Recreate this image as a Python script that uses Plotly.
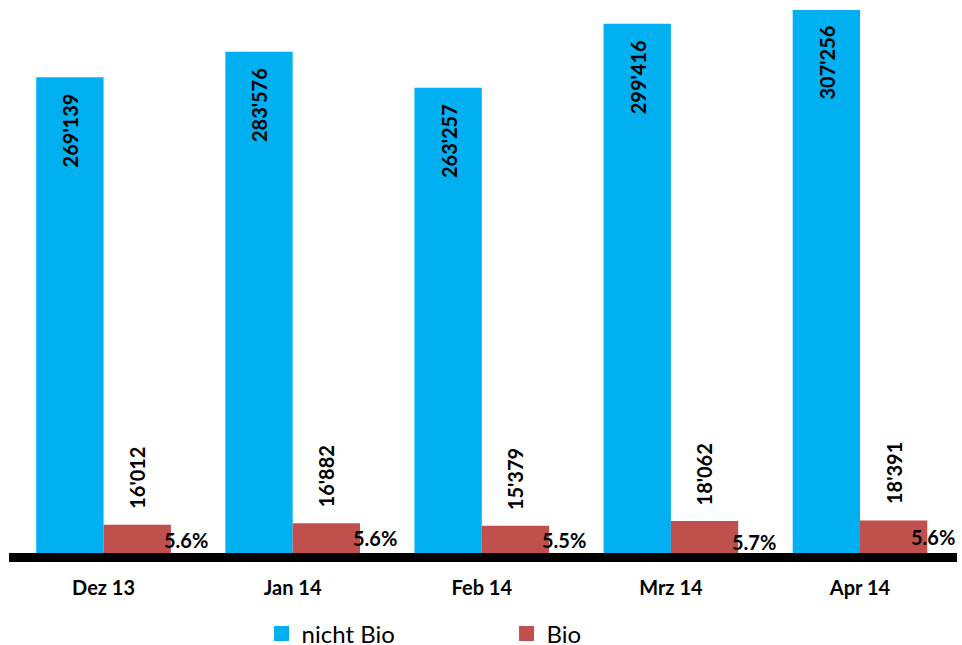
import plotly.graph_objects as go

categories = ["Dez 13", "Jan 14", "Feb 14", "Mrz 14", "Apr 14"]
nicht_bio = [269139, 283576, 263257, 299416, 307256]
bio = [16012, 16882, 15379, 18062, 18391]
bio_share = ["5.6%", "5.6%", "5.5%", "5.7%", "5.6%"]
series_names = ["nicht Bio", "Bio"]

# styling helpers (offsets in px)
share_xshift = [82, 82, 82, 83, 73]
share_yshift = [13, 15, 13, 11, 16]

BLUE = "#00B0F0"
RED = "#C0504D"
FONT = "Lato"

def fmt(v):
    return f"{v:,}".replace(",", "'")

fig = go.Figure()
fig.add_trace(go.Bar(x=categories, y=nicht_bio, name=series_names[0], marker_color=BLUE,
                     marker_line_width=0, showlegend=False))
fig.add_trace(go.Bar(x=categories, y=bio, name=series_names[1], marker_color=RED,
                     marker_line_width=0, showlegend=False))
# legend entries with larger square swatches
for nm, col in zip(series_names, [BLUE, RED]):
    fig.add_trace(go.Scatter(x=[None], y=[None], mode="markers", name=nm,
                             marker=dict(symbol="square", size=15, color=col),
                             showlegend=True, hoverinfo="skip"))

annotations = []
for i, c in enumerate(categories):
    annotations.append(dict(x=c, y=nicht_bio[i], xref="x", yref="y", text=f"<b>{fmt(nicht_bio[i])}</b>",
                            showarrow=False, textangle=-90, xanchor="center", yanchor="top",
                            xshift=-33.5, yshift=-14, font=dict(family=FONT, size=20, color="black")))
    annotations.append(dict(x=c, y=bio[i], xref="x", yref="y", text=f"<b>{fmt(bio[i])}</b>",
                            showarrow=False, textangle=-90, xanchor="center", yanchor="bottom",
                            xshift=33.5, yshift=14, font=dict(family=FONT, size=20, color="black")))
    annotations.append(dict(x=c, y=0, xref="x", yref="y", text=f"<b>{bio_share[i]}</b>",
                            showarrow=False, xanchor="center", yanchor="middle",
                            xshift=share_xshift[i], yshift=share_yshift[i],
                            font=dict(family=FONT, size=20, color="black")))

fig.update_layout(
    width=962, height=645,
    margin=dict(l=9, r=5, t=0, b=92, autoexpand=False),
    paper_bgcolor="white", plot_bgcolor="white",
    barmode="group", bargap=0.288, bargroupgap=0,
    font=dict(family=FONT, color="black"),
    xaxis=dict(showline=True, linecolor="black", linewidth=9, ticks="", automargin=False,
               tickfont=dict(family=FONT, size=20, color="black", weight="bold"),
               ticklabelstandoff=9, showgrid=False, fixedrange=True),
    yaxis=dict(range=[0, 312914], visible=False, showgrid=False, zeroline=False,
               automargin=False, fixedrange=True),
    legend=dict(orientation="h", x=0.2664, xanchor="left", y=-0.1465, yanchor="middle",
                font=dict(family=FONT, size=24, color="black"), entrywidth=200,
                itemwidth=30, tracegroupgap=0),
    showlegend=True,
    annotations=annotations,
)

fig.write_html("out.html", config={"displayModeBar": False},
               post_script="document.body.style.margin='0';document.body.style.overflow='hidden';")
